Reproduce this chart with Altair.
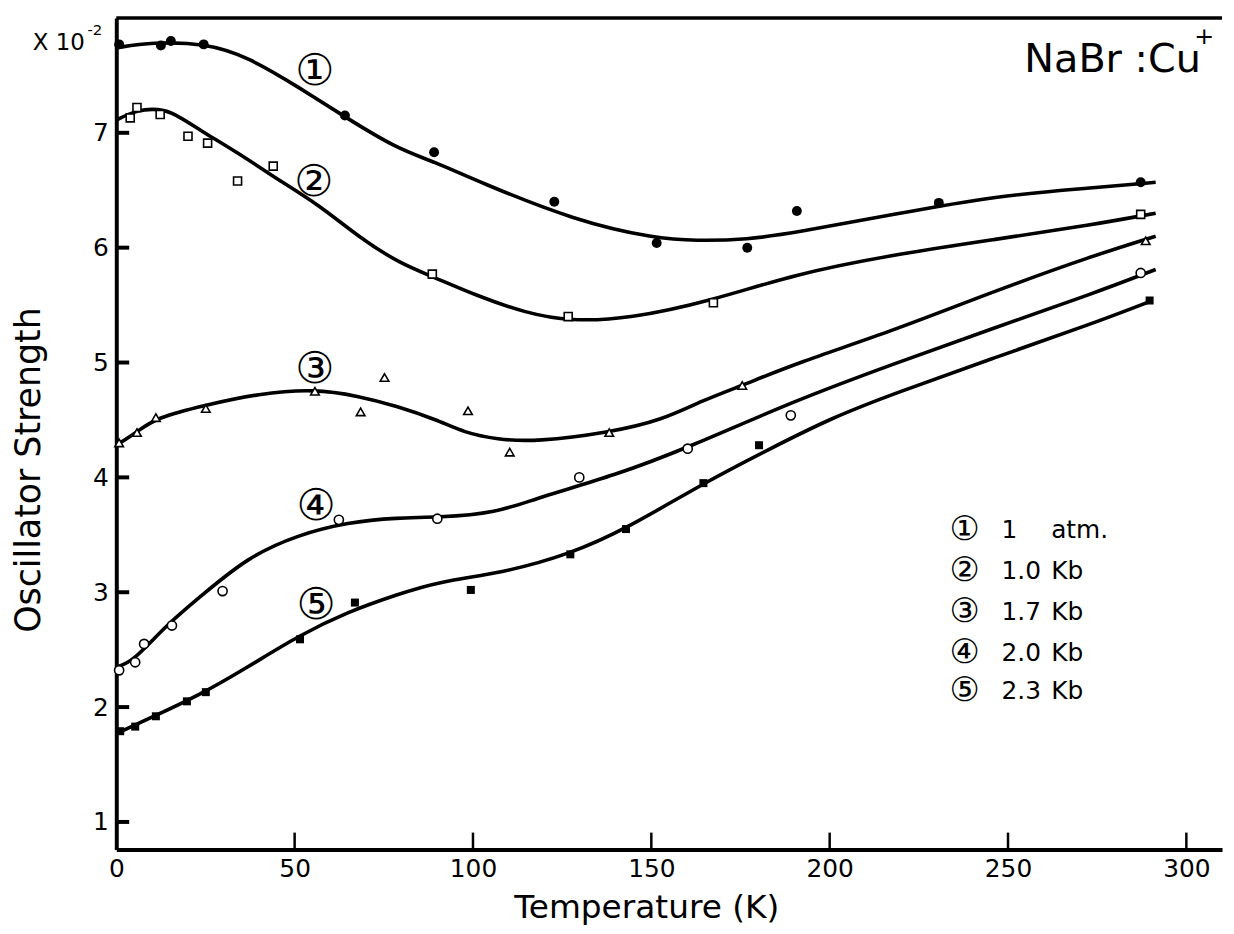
import altair as alt
import pandas as pd

FONT = "DejaVu Sans, sans-serif"

# ---- measured points: temperature (K) and oscillator strength (x 1e-2)
t1 = [0.8, 12.5, 15.3, 24.5, 64.1, 89.1, 122.8, 151.5, 176.9, 190.8, 230.6, 287.2]
v1 = [7.77, 7.76, 7.80, 7.77, 7.15, 6.83, 6.40, 6.04, 6.00, 6.32, 6.39, 6.57]
t2 = [3.9, 5.8, 12.3, 20.1, 25.6, 34.0, 44.0, 88.6, 126.7, 167.4, 287.2]
v2 = [7.13, 7.22, 7.16, 6.97, 6.91, 6.58, 6.71, 5.77, 5.40, 5.52, 6.29]
t3 = [0.8, 5.8, 11.1, 25.1, 55.7, 68.5, 75.2, 98.6, 110.3, 138.2, 175.5, 288.6]
v3 = [4.30, 4.39, 4.52, 4.60, 4.75, 4.57, 4.87, 4.58, 4.22, 4.39, 4.80, 6.06]
t4 = [0.8, 5.3, 7.8, 15.6, 29.8, 62.4, 90.0, 129.8, 160.2, 189.1, 287.2]
v4 = [2.32, 2.39, 2.55, 2.71, 3.01, 3.63, 3.64, 4.00, 4.25, 4.54, 5.78]
t5 = [1.1, 5.3, 11.1, 19.8, 25.1, 51.5, 66.9, 99.4, 127.3, 142.9, 164.6, 180.2, 289.7]
v5 = [1.79, 1.83, 1.92, 2.05, 2.13, 2.59, 2.91, 3.02, 3.33, 3.55, 3.95, 4.28, 5.54]

# ---- hand-drawn fitted curves
c1t = [0, 10, 25, 37, 51, 64, 78.8, 89.1, 101.1, 129, 151.3, 162.4, 176.9, 190.3, 218.1, 246, 273.8, 291.4]
c1v = [7.74, 7.79, 7.78, 7.66, 7.40, 7.14, 6.86, 6.75, 6.58, 6.23, 6.08, 6.06, 6.07, 6.13, 6.29, 6.45, 6.52, 6.57]
c2t = [0, 5.8, 12, 16.2, 23.1, 37, 45.4, 56.5, 68.5, 79.7, 88.6, 101.1, 115, 127, 143.7, 167.1, 190.3, 218.1, 246, 273.8, 291.4]
c2v = [7.11, 7.20, 7.21, 7.17, 7.03, 6.77, 6.59, 6.38, 6.08, 5.86, 5.75, 5.58, 5.43, 5.36, 5.38, 5.54, 5.77, 5.94, 6.07, 6.20, 6.30]
c3t = [0, 5.6, 11.1, 25.1, 39.8, 55.7, 67.7, 78.8, 90, 97.5, 106.7, 117.8, 138.2, 153.2, 164.3, 175.5, 190.3, 218.1, 246, 273.8, 291.4]
c3v = [4.28, 4.39, 4.52, 4.63, 4.73, 4.77, 4.71, 4.62, 4.50, 4.39, 4.33, 4.31, 4.39, 4.50, 4.67, 4.80, 4.99, 5.28, 5.62, 5.93, 6.10]
c4t = [0, 4.5, 13.9, 23.1, 37, 51, 64.9, 78.8, 90, 106.7, 117.8, 140.1, 160.4, 190.3, 218.1, 246, 273.8, 291.4]
c4v = [2.35, 2.39, 2.71, 2.95, 3.31, 3.50, 3.61, 3.65, 3.65, 3.69, 3.82, 4.02, 4.26, 4.67, 4.99, 5.30, 5.60, 5.81]
c5t = [0, 9.2, 23.1, 37, 51, 64.9, 78.8, 90, 108.6, 127, 142.9, 165.2, 182.7, 200.6, 218.1, 246, 273.8, 290.5]
c5v = [1.77, 1.90, 2.10, 2.35, 2.62, 2.83, 2.98, 3.09, 3.17, 3.33, 3.55, 3.96, 4.24, 4.52, 4.73, 5.04, 5.34, 5.54]

# ---- curve labels and legend
curve_marks = ["\u2460", "\u2461", "\u2462", "\u2463", "\u2464"]
label_t = [55.7, 55.4, 55.7, 56.0, 56.0]
label_v = [7.53, 6.56, 4.93, 3.74, 2.88]
legend_num = ["1", "1.0", "1.7", "2.0", "2.3"]
legend_unit = ["atm.", "Kb", "Kb", "Kb", "Kb"]

x_ticks = [0, 50, 100, 150, 200, 250, 300]
x_inner_ticks = [50, 100, 150, 200, 250, 300]
y_ticks = [1, 2, 3, 4, 5, 6, 7]

W, H = 1113, 837
xs = alt.Scale(domain=[0, 310], nice=False, zero=False)
ys = alt.Scale(domain=[0.76, 8.0], nice=False, zero=False)

AX = alt.Axis(values=x_ticks, ticks=False, grid=False, title=None,
              domainWidth=4, domainColor="black",
              labelFont=FONT, labelFontSize=25, labelColor="black",
              labelPadding=7, labelFlush=False)
AY = alt.Axis(values=y_ticks, ticks=False, grid=False, title=None,
              domainWidth=4, domainColor="black", format="d",
              labelFont=FONT, labelFontSize=25, labelColor="black",
              labelPadding=8)

def XE():
    return alt.X("T:Q", scale=xs, axis=AX)

def YE():
    return alt.Y("V:Q", scale=ys, axis=AY)

curves = pd.concat([
    pd.DataFrame({"T": t, "V": v, "s": str(i + 1)})
    for i, (t, v) in enumerate([(c1t, c1v), (c2t, c2v), (c3t, c3v), (c4t, c4v), (c5t, c5v)])
])

def pts(t, v):
    return pd.DataFrame({"T": t, "V": v})

lines = alt.Chart(curves).mark_line(color="black", strokeWidth=3.6, interpolate="basis").encode(
    x=XE(), y=YE(), detail="s:N")

p1 = alt.Chart(pts(t1, v1)).mark_point(shape="circle", filled=True, color="black", size=100, opacity=1).encode(
    x=XE(), y=YE())
p2 = alt.Chart(pts(t2, v2)).mark_point(shape="square", fill="white", stroke="black", strokeWidth=1.6,
                                       size=65, opacity=1, fillOpacity=1).encode(x=XE(), y=YE())
p3 = alt.Chart(pts(t3, v3)).mark_point(shape="triangle-up", fill="white", stroke="black", strokeWidth=1.6,
                                       size=75, opacity=1, fillOpacity=1).encode(x=XE(), y=YE())
p4 = alt.Chart(pts(t4, v4)).mark_point(shape="circle", fill="white", stroke="black", strokeWidth=1.6,
                                       size=85, opacity=1, fillOpacity=1).encode(x=XE(), y=YE())
p5 = alt.Chart(pts(t5, v5)).mark_point(shape="square", filled=True, color="black", size=65, opacity=1).encode(
    x=XE(), y=YE())

# inward tick marks
yt = alt.Chart(pd.DataFrame({"V": y_ticks})).mark_rule(color="black", strokeWidth=4).encode(
    y=YE(), x=alt.value(0), x2=alt.value(13))
xt = alt.Chart(pd.DataFrame({"T": x_inner_ticks})).mark_rule(color="black", strokeWidth=2.5).encode(
    x=XE(), y=alt.value(H), y2=alt.value(H - 17))

# top frame line
top = alt.Chart(pd.DataFrame({"a": [0]})).mark_rule(color="black", strokeWidth=3.5).encode(
    x=alt.value(0), x2=alt.value(W), y=alt.value(0))

# curve labels
clabels = alt.Chart(pd.DataFrame({"T": label_t, "V": label_v, "lab": curve_marks})).mark_text(
    font=FONT, fontSize=44, color="black").encode(x=XE(), y=YE(), text="lab:N")

layers = [lines, p1, p2, p3, p4, p5, yt, xt, top, clabels]

def txt(s, x, y, size, align="left", angle=0, baseline="middle"):
    kw = dict(font=FONT, fontSize=size, color="black", align=align, baseline=baseline)
    if angle:
        kw["angle"] = angle
    return alt.Chart(pd.DataFrame({"t": [s]})).mark_text(**kw).encode(
        x=alt.value(x), y=alt.value(y), text="t:N")

# legend block
row_y = [515, 557, 598, 639, 678]
for i in range(5):
    layers.append(txt(curve_marks[i], 854, row_y[i], 34, align="center"))
    layers.append(txt(legend_num[i], 891, row_y[i], 25))
    layers.append(txt(legend_unit[i], 941, row_y[i], 25))

# titles and scale factor
layers.append(txt("NaBr :Cu", 914, 42, 40))
layers.append(txt("+", 1085, 19, 24))
layers.append(txt("X 10", -84, 25, 23))
layers.append(txt("-2", -29, 12, 15))
layers.append(txt("Oscillator Strength", -88, 455, 35, align="center", angle=270))
layers.append(txt("Temperature (K)", 534, 896, 33, align="center"))

chart = alt.layer(*layers).properties(
    width=W, height=H,
    autosize=alt.AutoSizeParams(type="none"),
    padding={"left": 109, "top": 7, "right": 4, "bottom": 78},
).configure(background="white").configure_view(stroke=None)

chart.save("out.html", embed_options={"renderer": "svg", "actions": False})
